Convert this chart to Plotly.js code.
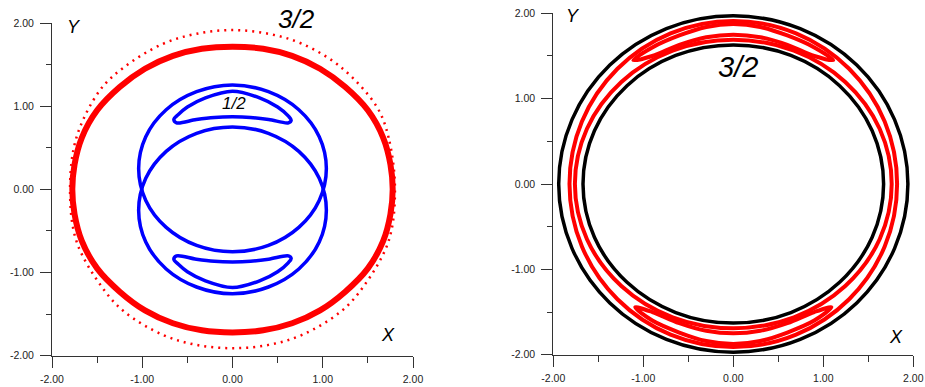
<!DOCTYPE html>
<html>
<head>
<meta charset="utf-8">
<script src="https://cdn.plot.ly/plotly-3.0.1.min.js"></script>
<style>
html,body{margin:0;padding:0;background:#fff;}
#chart{width:925px;height:387px;}
</style>
</head>
<body>
<div id="chart"></div>
<script>
// ---------- tick labels ----------
const tickVals = [-2, -1, 0, 1, 2];
const tickText = ['-2.00', '-1.00', '0.00', '1.00', '2.00'];

// ---------- LEFT PANEL ----------
// dense red chaotic band (centre line)
const bandX = [0, 0.34, 0.66, 0.97, 1.25, 1.50, 1.67, 1.75, 1.775, 1.75, 1.67, 1.50, 1.25, 0.97, 0.66, 0.34, 0, -0.34, -0.66, -0.97, -1.25, -1.50, -1.67, -1.75, -1.775, -1.75, -1.67, -1.50, -1.25, -0.97, -0.66, -0.34, 0];
const bandY = [-1.72, -1.695, -1.61, -1.455, -1.23, -0.95, -0.62, -0.30, 0, 0.30, 0.62, 0.95, 1.23, 1.45, 1.605, 1.69, 1.715, 1.69, 1.605, 1.45, 1.23, 0.95, 0.62, 0.30, 0, -0.30, -0.62, -0.95, -1.23, -1.455, -1.61, -1.695, -1.72];
// sparse outer red ring
const sparseX = [1.80, 1.73, 1.6, 1.2, 0.77, 0.4, 0, -0.4, -0.77, -1.2, -1.47, -1.73, -1.80, -1.73, -1.45, -1.2, -0.77, -0.4, 0, 0.4, 0.77, 1.2, 1.45, 1.73, 1.80];
const sparseY = [0, 0.62, 0.99, 1.47, 1.75, 1.87, 1.915, 1.87, 1.75, 1.47, 1.19, 0.62, 0, -0.62, -1.17, -1.47, -1.75, -1.87, -1.91, -1.87, -1.75, -1.47, -1.17, -0.62, 0];
// blue separatrix: upper loop and lower loop (crossing near x = ±1, y = 0)
const loopUpX = [1.04, 0.961, 0.735, 0.398, 0, -0.398, -0.735, -0.961, -1.04, -0.961, -0.735, -0.398, 0, 0.398, 0.735, 0.961, 1.04];
const loopUpY = [0.25, 0.633, 0.957, 1.174, 1.255, 1.174, 0.957, 0.633, 0.25, -0.133, -0.457, -0.674, -0.75, -0.674, -0.457, -0.133, 0.25];
const loopLoX = [1.04, 0.961, 0.735, 0.398, 0, -0.398, -0.735, -0.961, -1.04, -0.961, -0.735, -0.398, 0, 0.398, 0.735, 0.961, 1.04];
const loopLoY = [-0.25, -0.633, -0.957, -1.174, -1.255, -1.174, -0.957, -0.633, -0.25, 0.133, 0.457, 0.674, 0.75, 0.674, 0.457, 0.133, -0.25];
// blue 1/2 islands
const islUpX = [-0.62, -0.65, -0.6, -0.5, -0.3, 0, 0.3, 0.5, 0.62, 0.65, 0.62, 0.4, 0.2, 0, -0.2, -0.4, -0.62];
const islUpY = [0.80, 0.84, 0.90, 0.99, 1.10, 1.18, 1.10, 0.99, 0.88, 0.83, 0.80, 0.84, 0.865, 0.872, 0.865, 0.84, 0.80];
const islLoX = [-0.62, -0.65, -0.6, -0.5, -0.3, 0, 0.3, 0.5, 0.62, 0.65, 0.62, 0.4, 0.2, 0, -0.2, -0.4, -0.62];
const islLoY = [-0.80, -0.84, -0.90, -0.99, -1.10, -1.18, -1.10, -0.99, -0.88, -0.83, -0.80, -0.84, -0.865, -0.872, -0.865, -0.84, -0.80];

// ---------- RIGHT PANEL ----------
const blkOutX = [1.94, 1.792, 1.372, 0.743, 0, -0.743, -1.372, -1.792, -1.94, -1.792, -1.372, -0.743, 0, 0.743, 1.372, 1.792, 1.94];
const blkOutY = [0, 0.754, 1.393, 1.820, 1.97, 1.820, 1.393, 0.754, 0, -0.754, -1.393, -1.820, -1.97, -1.820, -1.393, -0.754, 0];
const blkInX = [1.67, 1.543, 1.181, 0.640, 0, -0.640, -1.181, -1.543, -1.67, -1.543, -1.181, -0.640, 0, 0.640, 1.181, 1.543, 1.67];
const blkInY = [0, 0.624, 1.152, 1.506, 1.63, 1.506, 1.152, 0.624, 0, -0.624, -1.152, -1.506, -1.63, -1.506, -1.152, -0.624, 0];
const redOutX = [1.82, 1.682, 1.287, 0.697, 0, -0.697, -1.287, -1.682, -1.82, -1.682, -1.287, -0.697, 0, 0.697, 1.287, 1.682, 1.82];
const redOutY = [0, 0.732, 1.350, 1.765, 1.91, 1.765, 1.350, 0.732, 0, -0.732, -1.350, -1.765, -1.91, -1.765, -1.350, -0.732, 0];
const redInX = [1.76, 1.626, 1.244, 0.674, 0, -0.674, -1.244, -1.626, -1.76, -1.626, -1.244, -0.674, 0, 0.674, 1.244, 1.626, 1.76];
const redInY = [0, 0.647, 1.195, 1.562, 1.69, 1.562, 1.195, 0.647, 0, -0.647, -1.195, -1.562, -1.69, -1.562, -1.195, -0.647, 0];
// 3/2 island crescents
const cresUpX = [-1.11, -0.9, -0.6, -0.3, 0, 0.3, 0.6, 0.9, 1.11, 0.9, 0.6, 0.3, 0, -0.3, -0.6, -0.9, -1.11];
const cresUpY = [1.45, 1.60, 1.74, 1.84, 1.875, 1.84, 1.74, 1.60, 1.45, 1.50, 1.63, 1.72, 1.75, 1.72, 1.63, 1.50, 1.45];
const cresLoX = [-1.09, -0.9, -0.6, -0.3, 0, 0.3, 0.6, 0.9, 1.09, 0.9, 0.6, 0.3, 0, -0.3, -0.6, -0.9, -1.09];
const cresLoY = [-1.445, -1.60, -1.74, -1.84, -1.875, -1.84, -1.74, -1.60, -1.445, -1.50, -1.63, -1.72, -1.75, -1.72, -1.63, -1.50, -1.445];

function curve(x, y, color, width, xa, ya, dash) {
  return {
    x: x, y: y, xaxis: xa, yaxis: ya, type: 'scatter', mode: 'lines',
    line: {color: color, width: width, shape: 'spline', smoothing: 1, dash: dash || 'solid'},
    hoverinfo: 'skip', showlegend: false
  };
}

const RED = '#ff0000', BLUE = '#0000ff', BLACK = '#000000';
const data = [
  curve(sparseX, sparseY, RED, 2.5, 'x', 'y', '2px,5px'),
  curve(bandX, bandY, RED, 6, 'x', 'y'),
  curve(loopUpX, loopUpY, BLUE, 3.5, 'x', 'y'),
  curve(loopLoX, loopLoY, BLUE, 3.5, 'x', 'y'),
  curve(islUpX, islUpY, BLUE, 3.5, 'x', 'y'),
  curve(islLoX, islLoY, BLUE, 3.5, 'x', 'y'),
  curve(blkOutX, blkOutY, BLACK, 3.5, 'x2', 'y2'),
  curve(blkInX, blkInY, BLACK, 3.5, 'x2', 'y2'),
  curve(redOutX, redOutY, RED, 4, 'x2', 'y2'),
  curve(redInX, redInY, RED, 4, 'x2', 'y2'),
  curve(cresUpX, cresUpY, RED, 4, 'x2', 'y2'),
  curve(cresLoX, cresLoY, RED, 4, 'x2', 'y2')
];

const FONT = 'Liberation Sans, Arial, sans-serif';
function axis(domain, anchor, isY) {
  return {
    domain: domain, anchor: anchor, range: [-2, 2],
    tickmode: 'array', tickvals: tickVals, ticktext: tickText,
    ticks: 'outside', ticklen: 11, tickwidth: 1, tickcolor: '#333',
    showline: true, linecolor: '#333', linewidth: 1,
    showgrid: false, zeroline: false, fixedrange: true,
    ticklabelstandoff: isY ? 4 : 3,
    minor: {ticks: 'outside', dtick: 0.5, tick0: 0, ticklen: isY ? 5 : 6, tickcolor: '#333', tickwidth: 1, showgrid: false},
    tickfont: {family: FONT, size: 10.5, color: '#222'}
  };
}

function label(text, px, py, size) {
  return {
    text: '<i>' + text + '</i>', xref: 'paper', yref: 'paper',
    x: px / 925, y: 1 - py / 387, xanchor: 'center', yanchor: 'middle',
    showarrow: false, font: {family: FONT, size: size, color: '#000'}
  };
}

const layout = {
  width: 925, height: 387,
  margin: {l: 0, r: 0, t: 0, b: 0},
  paper_bgcolor: '#fff', plot_bgcolor: '#fff',
  showlegend: false,
  xaxis: axis([52 / 925, 413 / 925], 'y', false),
  yaxis: axis([(387 - 355.7) / 387, (387 - 23) / 387], 'x', true),
  xaxis2: axis([553.3 / 925, 913.3 / 925], 'y2', false),
  yaxis2: axis([(387 - 354.7) / 387, (387 - 13.3) / 387], 'x2', true),
  annotations: [
    label('Y', 74, 27, 18),
    label('X', 387.5, 335, 18),
    label('3/2', 296, 19.5, 26),
    label('1/2', 234, 104, 17),
    label('Y', 572.5, 16.3, 18),
    label('X', 896, 337, 18),
    label('3/2', 738, 67.5, 29)
  ]
};

Plotly.newPlot('chart', data, layout, {staticPlot: true, displayModeBar: false});
</script>
</body>
</html>
